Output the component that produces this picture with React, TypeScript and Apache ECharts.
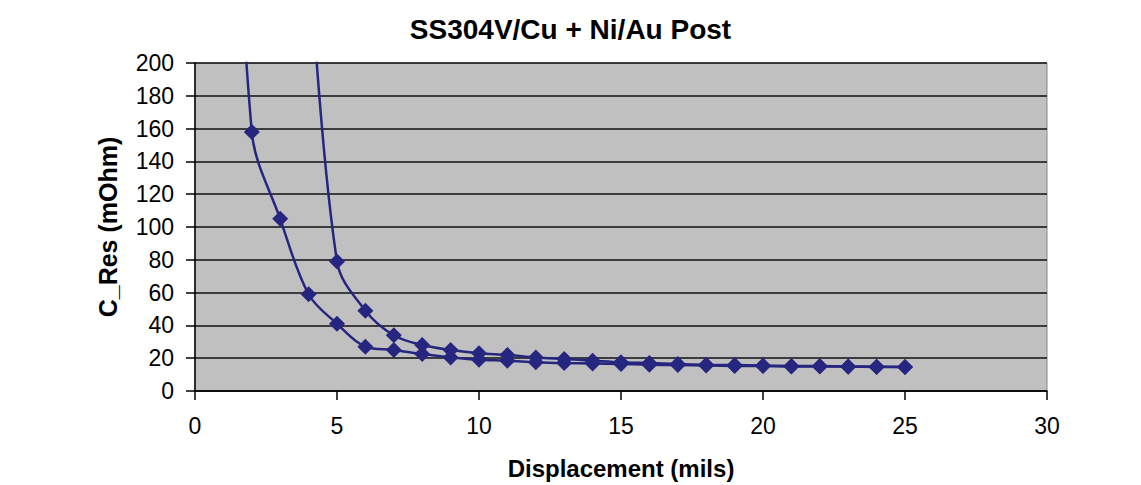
import React, { useEffect, useRef } from "react";
import * as echarts from "echarts";

// Series 1 (left curve): displacement (mils) vs contact resistance (mOhm)
const s1X = [1, 2, 3, 4, 5, 6, 7, 8, 9, 10, 11, 12, 13, 14, 15, 16, 17, 18, 19, 20, 21, 22, 23, 24, 25];
const s1Y = [500, 158, 105, 59, 41, 27, 25, 22.5, 20.5, 19, 18.5, 17.5, 17, 16.8, 16.5, 16, 15.8, 15.5, 15.3, 15.2, 15, 15, 14.8, 14.7, 14.6];
// Series 2 (right curve)
const s2X = [4, 5, 6, 7, 8, 9, 10, 11, 12, 13, 14, 15, 16, 17, 18, 19, 20, 21, 22, 23, 24, 25];
const s2Y = [275, 79, 49, 34, 28, 25, 23, 22, 20.5, 19.5, 18.5, 17.5, 17, 16.5, 16, 15.8, 15.5, 15.3, 15.2, 15, 14.8, 14.7];

const yMax = 200;
const title = "SS304V/Cu + Ni/Au Post";
const xName = "Displacement (mils)";
const yName = "C_Res (mOhm)";

const FONT = 'Arial, "Liberation Sans", Helvetica, sans-serif';
const LINE = "#262680";

function build(xs: number[], ys: number[]) {
  return xs.map((x, i) => {
    const item: any = { value: [x, ys[i]] };
    if (ys[i] > yMax) item.symbol = "none";
    return item;
  });
}

export default function App() {
  const ref = useRef<HTMLDivElement>(null);
  useEffect(() => {
    if (!ref.current) return;
    const chart = echarts.init(ref.current, undefined, { renderer: "svg" });
    const seriesCommon = {
      type: "line" as const,
      smooth: 0.35,
      symbol: "diamond",
      symbolSize: 16,
      clip: true,
      lineStyle: { color: LINE, width: 2.5 },
      itemStyle: { color: LINE },
    };
    chart.setOption({
      animation: false,
      backgroundColor: "#ffffff",
      title: {
        text: title,
        left: "center",
        top: 10,
        textStyle: { fontFamily: FONT, fontWeight: "bold", fontSize: 28, color: "#000" },
      },
      grid: {
        left: 195,
        right: 94,
        top: 63,
        bottom: 94,
        show: true,
        backgroundColor: "#c0c0c0",
        borderColor: "#888888",
        borderWidth: 1,
      },
      xAxis: {
        type: "value",
        min: 0,
        max: 30,
        interval: 5,
        name: xName,
        nameLocation: "middle",
        nameGap: 65,
        nameTextStyle: { fontFamily: FONT, fontWeight: "bold", fontSize: 24, color: "#000" },
        axisLine: { show: true, lineStyle: { color: "#000", width: 1.5 } },
        axisTick: { show: true, length: 9, lineStyle: { color: "#000", width: 1.5 } },
        axisLabel: { fontFamily: FONT, fontSize: 23, color: "#000", margin: 23 },
        splitLine: { show: false },
      },
      yAxis: {
        type: "value",
        min: 0,
        max: yMax,
        interval: 20,
        name: yName,
        nameLocation: "middle",
        nameGap: 75,
        nameRotate: 90,
        nameTextStyle: { fontFamily: FONT, fontWeight: "bold", fontSize: 25, color: "#000" },
        axisLine: { show: true, lineStyle: { color: "#000", width: 1.5 } },
        axisTick: { show: true, length: 9, lineStyle: { color: "#000", width: 1.5 } },
        axisLabel: { fontFamily: FONT, fontSize: 23, color: "#000", margin: 21 },
        splitLine: { show: true, lineStyle: { color: "#111", width: 1.5 } },
      },
      series: [
        { ...seriesCommon, name: "S1", data: build(s1X, s1Y) },
        { ...seriesCommon, name: "S2", data: build(s2X, s2Y) },
      ],
    });
    return () => chart.dispose();
  }, []);
  return (
    <div
      ref={ref}
      style={{ position: "fixed", left: 0, top: 0, width: 1141, height: 485, background: "#fff" }}
    />
  );
}
